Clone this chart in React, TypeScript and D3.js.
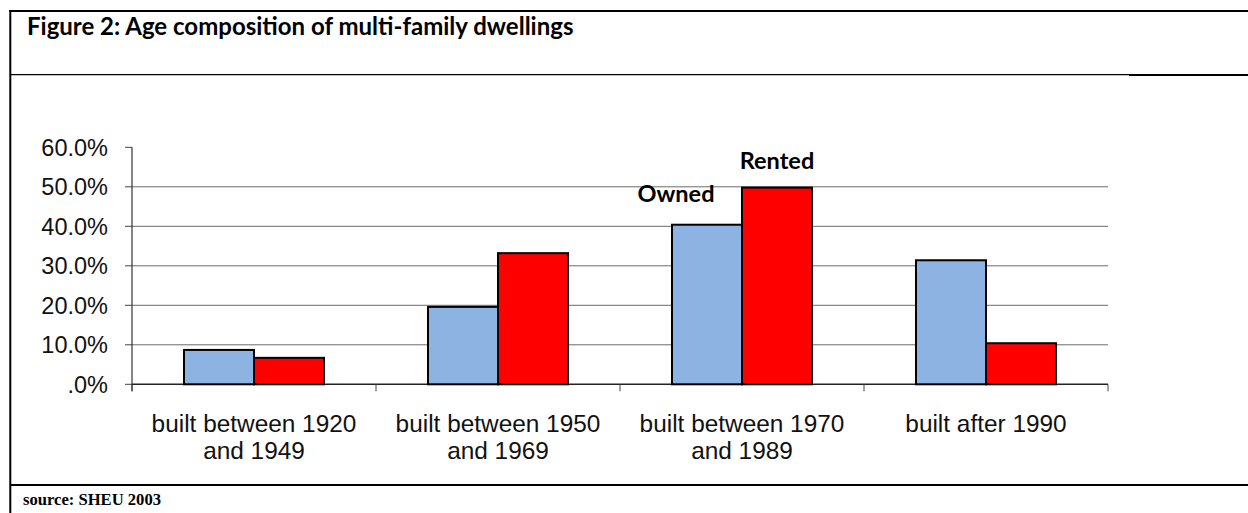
import React from "react";
import * as d3 from "d3";

const categories: string[][] = [
  ["built between 1920", "and 1949"],
  ["built between 1950", "and 1969"],
  ["built between 1970", "and 1989"],
  ["built after 1990"],
];
const seriesNames = ["Owned", "Rented"];
const owned = [0.087, 0.196, 0.404, 0.314];
const rented = [0.067, 0.332, 0.498, 0.104];
const yTicks = [0, 0.1, 0.2, 0.3, 0.4, 0.5, 0.6];
const title = "Figure 2: Age composition of multi-family dwellings";
const source = "source: SHEU 2003";

const W = 1248;
const H = 513;
const plot = { left: 132, right: 1108, top: 147.3, bottom: 384.3 };
const colors = ["#8DB3E2", "#FF0000"];

export default function App() {
  const keys = categories.map((c) => c.join(" "));
  const x = d3.scaleBand<string>().domain(keys).range([plot.left, plot.right]);
  const y = d3.scaleLinear().domain([0, 0.6]).range([plot.bottom, plot.top]);
  const barW = 70;
  const inner = d3
    .scaleBand<string>()
    .domain(seriesNames)
    .range([-barW, barW]);
  const fmt = (v: number) => (v === 0 ? ".0%" : d3.format(".1f")(v * 100) + "%");
  const values = [owned, rented];
  const tickX = [...keys.map((k) => x(k)!), plot.right];
  const c3 = x(keys[2])! + x.bandwidth() / 2;

  return (
    <svg
      width={W}
      height={H}
      style={{ position: "absolute", left: 0, top: 0, background: "#fff" }}
    >
      <rect x={0} y={0} width={W} height={H} fill="#fff" />
      {/* frame */}
      <line x1={9.3} x2={W} y1={11} y2={11} stroke="#000" strokeWidth={2} />
      <line x1={10.3} x2={10.3} y1={10} y2={H} stroke="#000" strokeWidth={2} />
      <line x1={10} x2={1129} y1={74.6} y2={74.6} stroke="#000" strokeWidth={1.3} />
      <line x1={1129} x2={W} y1={75} y2={75} stroke="#000" strokeWidth={2} />
      <line x1={10} x2={W} y1={485} y2={485} stroke="#000" strokeWidth={2} />
      <text
        x={27}
        y={35}
        fontFamily="Lato, 'Open Sans', sans-serif"
        fontWeight="bold"
        fontSize={24}
        fill="#000"
      >
        {title}
      </text>
      <text
        x={23}
        y={505}
        fontFamily="'Liberation Serif', 'Times New Roman', serif"
        fontWeight="bold"
        fontSize={16.6}
        fill="#000"
      >
        {source}
      </text>

      {/* gridlines */}
      {yTicks.slice(1, -1).map((t) => (
        <line
          key={"g" + t}
          x1={plot.left}
          x2={plot.right}
          y1={y(t)}
          y2={y(t)}
          stroke="#6b6b6b"
          strokeWidth={1}
        />
      ))}
      {/* y ticks & labels */}
      {yTicks.map((t) => (
        <g key={"t" + t}>
          <line x1={125} x2={plot.left} y1={y(t)} y2={y(t)} stroke="#444" strokeWidth={1} />
          <text
            x={108}
            y={y(t)}
            dy="0.35em"
            textAnchor="end"
            fontFamily="'Liberation Sans', Arial, sans-serif"
            fontSize={23.5}
            fill="#111"
          >
            {fmt(t)}
          </text>
        </g>
      ))}
      <line x1={plot.left} x2={plot.left} y1={plot.top} y2={plot.bottom + 7} stroke="#333" strokeWidth={1.2} />
      <line x1={plot.left} x2={plot.right} y1={plot.bottom} y2={plot.bottom} stroke="#222" strokeWidth={1.5} />
      {tickX.map((tx, i) => (
        <line key={"xt" + i} x1={tx} x2={tx} y1={plot.bottom} y2={plot.bottom + 7} stroke="#444" strokeWidth={1} />
      ))}

      {/* bars */}
      {keys.map((k, i) => {
        const cx = x(k)! + x.bandwidth() / 2;
        return seriesNames.map((s, j) => (
          <rect
            key={k + s}
            x={cx + inner(s)!}
            y={y(values[j][i])}
            width={inner.bandwidth()}
            height={y(0) - y(values[j][i])}
            fill={colors[j]}
            stroke="#000"
            strokeWidth={2}
          />
        ));
      })}

      {/* series labels */}
      <text
        x={c3 - 66}
        y={201.5}
        textAnchor="middle"
        fontFamily="Lato, 'Open Sans', sans-serif"
        fontWeight="bold"
        fontSize={23.5}
        fill="#000"
      >
        {seriesNames[0]}
      </text>
      <text
        x={c3 + 35}
        y={169.3}
        textAnchor="middle"
        fontFamily="Lato, 'Open Sans', sans-serif"
        fontWeight="bold"
        fontSize={23.5}
        fill="#000"
      >
        {seriesNames[1]}
      </text>

      {/* category labels */}
      {categories.map((lines, i) => {
        const cx = x(keys[i])! + x.bandwidth() / 2;
        return lines.map((ln, j) => (
          <text
            key={ln}
            x={cx}
            y={432 + j * 27.3}
            textAnchor="middle"
            fontFamily="'Liberation Sans', Arial, sans-serif"
            fontSize={24.4}
            fill="#111"
          >
            {ln}
          </text>
        ));
      })}
    </svg>
  );
}
